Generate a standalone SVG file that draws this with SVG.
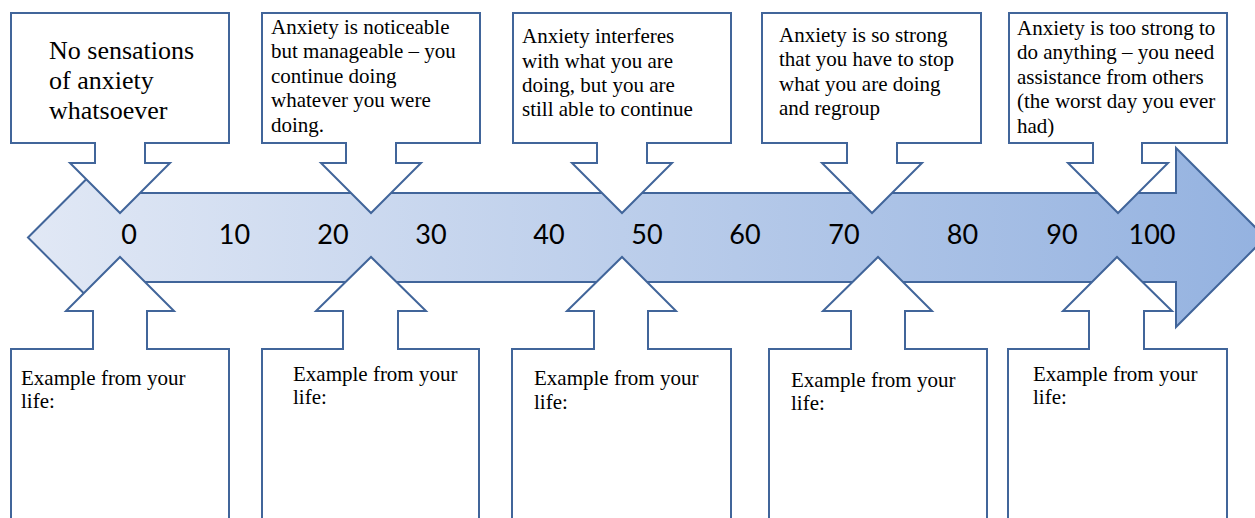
<svg xmlns="http://www.w3.org/2000/svg" width="1255" height="518" viewBox="0 0 1255 518">
<defs>
<linearGradient id="g" gradientUnits="userSpaceOnUse" x1="28" y1="0" x2="1265" y2="0">
<stop offset="0" stop-color="#E1E8F5"/>
<stop offset="1" stop-color="#94B2E0"/>
</linearGradient>
<style>
.sh{stroke:#41659A;stroke-width:2;stroke-linejoin:miter}
.co{fill:#FFFFFF}
.t{font-family:"Liberation Serif","Times New Roman",serif;font-size:21px;fill:#000}
.big{font-size:26px}
.n{font-family:Lato,"Open Sans",sans-serif;font-size:27px;fill:#000;text-anchor:middle}
</style>
</defs>
<rect width="1255" height="518" fill="#FFFFFF"/>
<g id="scale-arrow">
<path class="sh" fill="url(#g)" d="M28,237.5 L117.5,148 L117.5,193 L1176,193 L1176,148 L1265.5,237.5 L1176,327 L1176,282 L117.5,282 L117.5,327 Z"/>
<text class="n" x="129" y="244">0</text>
<text class="n" x="234.5" y="244">10</text>
<text class="n" x="333" y="244">20</text>
<text class="n" x="431" y="244">30</text>
<text class="n" x="549" y="244">40</text>
<text class="n" x="647" y="244">50</text>
<text class="n" x="745" y="244">60</text>
<text class="n" x="844" y="244">70</text>
<text class="n" x="962.5" y="244">80</text>
<text class="n" x="1062" y="244">90</text>
<text class="n" x="1152" y="244">100</text>
</g>
<g id="connectors"></g>
<g id="top-0">
<path class="sh co" d="M11,13 H229 V143 H145 V163 H170 L120,213 L70,163 H95 V143 H11 Z"/>
<text class="t big"><tspan x="49" y="59">No sensations</tspan><tspan x="49" y="89">of anxiety</tspan><tspan x="49" y="119">whatsoever</tspan></text>
</g>
<g id="top-20">
<path class="sh co" d="M262,13 H480 V143 H396 V163 H421 L371,213 L321,163 H346 V143 H262 Z"/>
<text class="t"><tspan x="271" y="34">Anxiety is noticeable</tspan><tspan x="271" y="58">but manageable – you</tspan><tspan x="271" y="83">continue doing</tspan><tspan x="271" y="107">whatever you were</tspan><tspan x="271" y="132">doing.</tspan></text>
</g>
<g id="top-50">
<path class="sh co" d="M513,13 H731 V143 H647 V163 H672 L622,213 L572,163 H597 V143 H513 Z"/>
<text class="t"><tspan x="522" y="43">Anxiety interferes</tspan><tspan x="522" y="68">with what you are</tspan><tspan x="522" y="92">doing, but you are</tspan><tspan x="522" y="116">still able to continue</tspan></text>
</g>
<g id="top-70">
<path class="sh co" d="M762,13 H981 V143 H897 V163 H922 L872,213 L822,163 H847 V143 H762 Z"/>
<text class="t"><tspan x="779" y="42">Anxiety is so strong</tspan><tspan x="779" y="66">that you have to stop</tspan><tspan x="779" y="91">what you are doing</tspan><tspan x="779" y="115">and regroup</tspan></text>
</g>
<g id="top-100">
<path class="sh co" d="M1009,13 H1227 V143 H1142 V163 H1168 L1118,213 L1068,163 H1093 V143 H1009 Z"/>
<text class="t"><tspan x="1017" y="35">Anxiety is too strong to</tspan><tspan x="1017" y="59">do anything – you need</tspan><tspan x="1017" y="84">assistance from others</tspan><tspan x="1017" y="108">(the worst day you ever</tspan><tspan x="1017" y="133">had)</tspan></text>
</g>
<g id="bottom-0">
<path class="sh co" d="M11,349 H93 V311 H66 L120,257 L174,311 H147 V349 H229 V530 H11 Z"/>
<text class="t"><tspan x="21" y="385">Example from your</tspan><tspan x="21" y="408">life:</tspan></text>
</g>
<g id="bottom-20">
<path class="sh co" d="M262,349 H343 V311 H316 L371,257 L426,311 H398 V349 H479 V530 H262 Z"/>
<text class="t"><tspan x="293" y="381">Example from your</tspan><tspan x="293" y="404">life:</tspan></text>
</g>
<g id="bottom-50">
<path class="sh co" d="M512,349 H594 V311 H567 L622,257 L676,311 H648 V349 H731 V530 H512 Z"/>
<text class="t"><tspan x="534" y="385">Example from your</tspan><tspan x="534" y="409">life:</tspan></text>
</g>
<g id="bottom-70">
<path class="sh co" d="M769,349 H851 V311 H823 L878,257 L932,311 H905 V349 H987 V530 H769 Z"/>
<text class="t"><tspan x="791" y="387">Example from your</tspan><tspan x="791" y="410">life:</tspan></text>
</g>
<g id="bottom-100">
<path class="sh co" d="M1008,349 H1089 V311 H1063 L1117,257 L1172,311 H1144 V349 H1227 V530 H1008 Z"/>
<text class="t"><tspan x="1033" y="381">Example from your</tspan><tspan x="1033" y="404">life:</tspan></text>
</g>
</svg>
